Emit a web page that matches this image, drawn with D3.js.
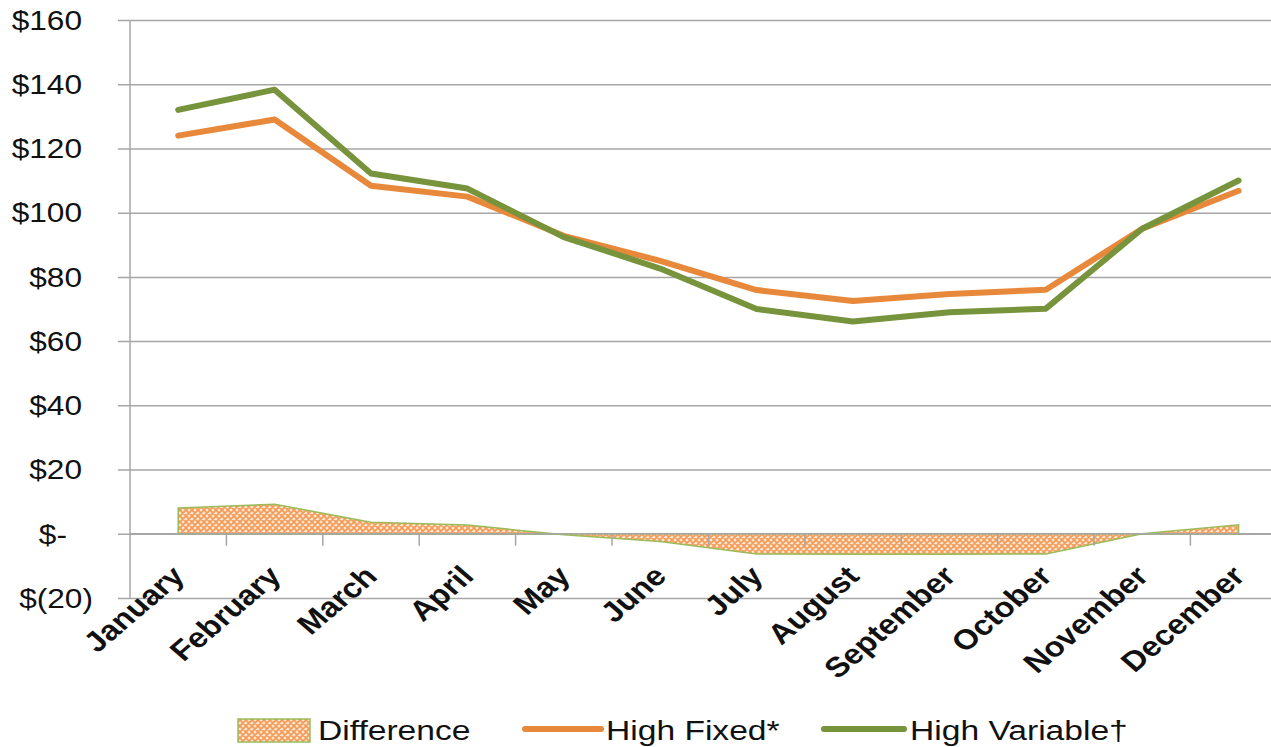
<!DOCTYPE html>
<html>
<head>
<meta charset="utf-8">
<script src="https://cdn.jsdelivr.net/npm/d3@7/dist/d3.min.js"></script>
<style>
  html, body { margin: 0; padding: 0; background: #fff; }
  svg { display: block; }
</style>
</head>
<body>
<svg id="chart" width="1271" height="747"></svg>
<script>
// Monthly cost comparison: high fixed vs. high variable, with the difference shaded
const months = ["January", "February", "March", "April", "May", "June",
                "July", "August", "September", "October", "November", "December"];
const highFixed    = [124, 129, 108.4, 105, 92.8, 85, 75.9, 72.5, 74.7, 76, 95, 106.8];
const highVariable = [132, 138.3, 112.2, 107.5, 92.4, 82.6, 70, 66.1, 69, 70.1, 95, 110];
const difference   = [8, 9.2, 3.6, 2.7, -0.3, -2.4, -6.3, -6.4, -6.4, -6.3, 0, 2.8];
const yTicks = [-20, 0, 20, 40, 60, 80, 100, 120, 140, 160];

const svg = d3.select("#chart");
const plotLeft = 130, plotTop = 20, plotBottom = 598;
const step = 96.4;
const widen = 1.17;            // horizontal stretch applied to all text
const font = "'Liberation Sans', Arial, sans-serif";

const x = d3.scaleBand().domain(months).range([plotLeft, plotLeft + step * months.length]).padding(0);
const y = d3.scaleLinear().domain([-20, 160]).range([plotBottom, plotTop]);
const cx = m => x(m) + x.bandwidth() / 2;

const gridColor = "#a6a6a6";
const orange = "#e8883a";
const green = "#77933c";
const areaEdge = "#9bbb59";

// Cross-hatch fill for the difference area
const defs = svg.append("defs");
const pat = defs.append("pattern")
  .attr("id", "hatch").attr("patternUnits", "userSpaceOnUse")
  .attr("width", 6).attr("height", 6);
pat.append("rect").attr("width", 6).attr("height", 6).attr("fill", "#fde6d2");
pat.append("path").attr("d", "M0,0 L6,6 M6,0 L0,6 M-1,5 L1,7 M5,-1 L7,1 M-1,1 L1,-1 M5,7 L7,5")
  .attr("stroke", "#f39a55").attr("stroke-width", 1.6);

// Horizontal gridlines
const yAxis = d3.axisLeft(y).tickValues(yTicks).tickSize(0).tickFormat("");
const gy = svg.append("g").attr("transform", `translate(${plotLeft - 12},0)`).call(yAxis);
gy.select(".domain").remove();
gy.selectAll(".tick line").attr("stroke", gridColor).attr("stroke-width", 1.5)
  .attr("x1", 0).attr("x2", 1271);

// Value labels in accounting style ($-, $(20))
const fmt = v => v === 0 ? "$-" : v < 0 ? `$(${-v})` : `$${v}`;
const labelShift = v => v === 0 ? -15 : v < 0 ? 11 : 0;
svg.append("g").selectAll("text")
  .data(yTicks)
  .join("text")
  .attr("transform", v => `translate(${82 + labelShift(v)},${y(v)}) scale(${widen - 0.04},1)`)
  .attr("text-anchor", "end")
  .attr("dy", "0.35em")
  .attr("fill", "#111")
  .style("font-family", font)
  .style("font-size", "28px")
  .text(fmt);

// Vertical value axis
svg.append("line").attr("x1", plotLeft).attr("x2", plotLeft).attr("y1", plotTop).attr("y2", plotBottom)
  .attr("stroke", gridColor).attr("stroke-width", 1.5);

// Difference area
const area = d3.area()
  .x((d, i) => cx(months[i]))
  .y0(y(0))
  .y1(d => y(d));
svg.append("path").datum(difference)
  .attr("d", area)
  .attr("fill", "url(#hatch)")
  .attr("stroke", areaEdge).attr("stroke-width", 1.5);

// Category axis at zero with tick marks between months
svg.append("line").attr("x1", plotLeft).attr("x2", 1271).attr("y1", y(0)).attr("y2", y(0))
  .attr("stroke", gridColor).attr("stroke-width", 1.5);
svg.append("g").selectAll("line")
  .data(months.slice(1))
  .join("line")
  .attr("x1", m => x(m)).attr("x2", m => x(m))
  .attr("y1", y(0)).attr("y2", y(0) + 12)
  .attr("stroke", gridColor).attr("stroke-width", 1.5);

// Month labels, rotated
svg.append("g").selectAll("text")
  .data(months)
  .join("text")
  .attr("transform", m => `translate(${cx(m) + 8},${y(0) + 44}) scale(${widen},1) rotate(-45)`)
  .attr("text-anchor", "end")
  .attr("fill", "#111")
  .style("font-family", font)
  .style("font-weight", "bold")
  .style("font-size", "28px")
  .text(m => m);

// Series lines
const line = d3.line().x((d, i) => cx(months[i])).y(d => y(d));
svg.append("path").datum(highFixed).attr("d", line)
  .attr("fill", "none").attr("stroke", orange).attr("stroke-width", 6)
  .attr("stroke-linejoin", "round").attr("stroke-linecap", "round");
svg.append("path").datum(highVariable).attr("d", line)
  .attr("fill", "none").attr("stroke", green).attr("stroke-width", 6)
  .attr("stroke-linejoin", "round").attr("stroke-linecap", "round");

// Legend
const legend = svg.append("g")
  .style("font-family", font)
  .style("font-size", "28px")
  .attr("fill", "#111");
const ly = 730;
const legendText = (x0, label) => legend.append("text")
  .attr("transform", `translate(${x0},${ly}) scale(${widen + 0.03},1)`)
  .attr("dy", "0.35em").text(label);
legend.append("rect").attr("x", 238).attr("y", ly - 11).attr("width", 72).attr("height", 23)
  .attr("fill", "url(#hatch)").attr("stroke", areaEdge).attr("stroke-width", 1.5);
legendText(318, "Difference");
legend.append("line").attr("x1", 525).attr("x2", 601).attr("y1", ly - 1).attr("y2", ly - 1)
  .attr("stroke", orange).attr("stroke-width", 6).attr("stroke-linecap", "round");
legendText(606, "High Fixed*");
legend.append("line").attr("x1", 824).attr("x2", 904).attr("y1", ly - 1).attr("y2", ly - 1)
  .attr("stroke", green).attr("stroke-width", 6).attr("stroke-linecap", "round");
legendText(910, "High Variable\u2020");
</script>
</body>
</html>
